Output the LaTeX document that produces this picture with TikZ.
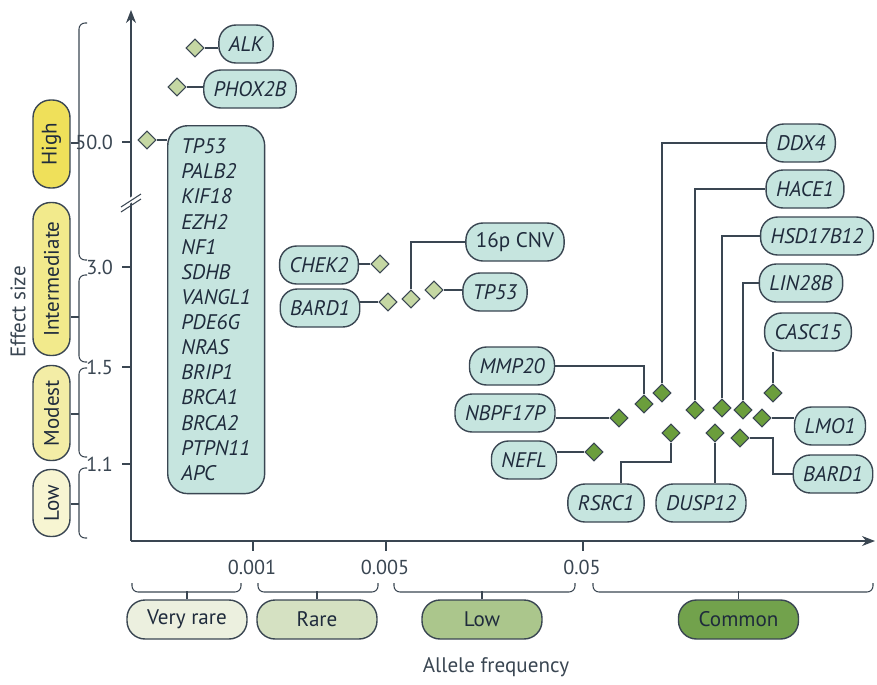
\documentclass[tikz,border=0pt]{standalone}
\usepackage{fontspec}
\setmainfont{PT Sans}
\usetikzlibrary{shapes.geometric, positioning, arrows.meta}

\definecolor{axiscol}{HTML}{3A4652}
\definecolor{textcol}{HTML}{1F2B3C}
\definecolor{genefill}{HTML}{C6E5DF}
\definecolor{lightdiam}{HTML}{C5D7A3}
\definecolor{darkdiam}{HTML}{6B9E3C}
\definecolor{highcol}{HTML}{EFE05A}
\definecolor{intercol}{HTML}{F2EA8C}
\definecolor{modestcol}{HTML}{F3EDA6}
\definecolor{lowcol}{HTML}{F7F5D2}
\definecolor{vrarecol}{HTML}{ECF0DF}
\definecolor{rarecol}{HTML}{D5E1C2}
\definecolor{lowfcol}{HTML}{ABC68C}
\definecolor{commoncol}{HTML}{72A24C}

\tikzset{
  axis/.style={draw=axiscol, line width=0.7pt},
  brk/.style={draw=axiscol, line width=0.6pt, rounded corners=0.12cm},
  lnk/.style={draw=axiscol, line width=0.6pt},
  ticklab/.style={text=axiscol, font=\fontsize{11.5}{13}\selectfont},
  gene/.style={draw=axiscol, fill=genefill, line width=0.8pt, rounded corners=0.34cm,
    minimum height=0.76cm, inner xsep=0.2cm, text=textcol,
    font=\itshape\fontsize{12}{14}\selectfont},
  ldiam/.style={diamond, draw=axiscol, fill=lightdiam, line width=0.6pt,
    minimum size=0.36cm, inner sep=0pt},
  ddiam/.style={ldiam, fill=darkdiam},
  effbox/.style={draw=axiscol, line width=0.8pt, rounded corners=0.35cm, rotate=90,
    minimum height=0.74cm, text=textcol, font=\fontsize{12}{14}\selectfont},
  freqbox/.style={draw=axiscol, line width=0.8pt, rounded corners=0.36cm,
    minimum height=0.78cm, minimum width=2.4cm, text=textcol,
    font=\fontsize{12}{14}\selectfont}
}

\begin{document}
\begin{tikzpicture}[x=0.02cm, y=-0.02cm]
\useasboundingbox (0,0) rectangle (877,684);

% axes
\draw[axis, -{Stealth[length=0.26cm, width=0.2cm]}] (131,541) -- (131,10);
\draw[axis, -{Stealth[length=0.26cm, width=0.2cm]}] (131,541) -- (875,541);
\foreach \y/\t in {142/50.0, 267/3.0, 367/1.5, 464/1.1} {
  \draw[axis] (122,\y) -- (131,\y);
  \node[ticklab, anchor=east] at (119,\y) {\t};
}
\foreach \x/\t in {253/0.001, 386/0.005, 583/0.05} {
  \draw[axis] (\x,541) -- (\x,551);
  \node[ticklab] at (\x-1,567) {\t};
}
% break
\draw[white, line width=0.1cm] (123,205) -- (139,195);
\draw[axis, line width=0.6pt] (121,207) -- (141,194);
\draw[axis, line width=0.6pt] (121,212) -- (141,199);

% effect size
\node[effbox, fill=highcol, minimum width=1.76cm] (high) at (51.5,144) {High};
\node[effbox, fill=intercol, minimum width=3.06cm] (inter) at (51.5,279) {Intermediate};
\node[effbox, fill=modestcol, minimum width=1.9cm] (modest) at (51.5,413) {Modest};
\node[effbox, fill=lowcol, minimum width=1.34cm] (low) at (51.5,503) {Low};
\foreach \ya/\yb/\ym/\nm in {23/260/143/high, 275/362/317/inter, 368/457/414/modest, 468/538/504/low} {
  \draw[brk] (87,\ya) -- (79,\ya) -- (79,\yb) -- (87,\yb);
  \draw[lnk] (79,\ym) -- (\nm.south |- 79,\ym);
}
\node[rotate=90, text=axiscol, font=\fontsize{12}{14}\selectfont] (esize) at (18,312) {Effect size};

% allele frequency
\node[freqbox, fill=vrarecol] (vrare) at (187,619.5) {Very rare};
\node[freqbox, fill=rarecol] (rare) at (317,619.5) {Rare};
\node[freqbox, fill=lowfcol] (lowf) at (482,619.5) {Low};
\node[freqbox, fill=commoncol] (common) at (738.5,619.5) {Common};
\foreach \xa/\xb in {132/241, 258/378, 394/575, 593/873}
  \draw[brk] (\xa,583) -- (\xa,592) -- (\xb,592) -- (\xb,583);
\foreach \nm in {vrare, rare, lowf, common}
  \draw[lnk] (\nm.north) -- ++(0,-8);
\node[text=axiscol, font=\fontsize{12}{14}\selectfont] (afreq) at (496,667) {Allele frequency};

% very rare and rare variants
\node[gene] (alk) at (246,44) {ALK};
\node[gene] (phox) at (250,89) {PHOX2B};
\node[gene, anchor=north west, minimum width=1.94cm, minimum height=7.36cm,
  rounded corners=0.4cm, align=left, font=\itshape\fontsize{12}{14.3}\selectfont] (big) at (167,125)
  {TP53\\PALB2\\KIF18\\EZH2\\NF1\\SDHB\\VANGL1\\PDE6G\\NRAS\\BRIP1\\BRCA1\\BRCA2\\PTPN11\\APC};
\node[ldiam] (dalk) at (195,48) {};
\node[ldiam] (dphox) at (177,87) {};
\node[ldiam] (dtpa) at (147,140) {};
\draw[lnk] (dalk) -- (dalk -| alk.west);
\draw[lnk] (dphox) -- (dphox -| phox.west);
\draw[lnk] (dtpa) -- (dtpa -| big.west);

\node[gene] (chek) at (319,265) {CHEK2};
\node[gene] (barda) at (320,308) {BARD1};
\node[gene, font=\fontsize{12}{14}\selectfont] (cnv) at (515,242) {16p CNV};
\node[gene] (tpb) at (495,292) {TP53};
\node[ldiam] (dchek) at (380,264) {};
\node[ldiam] (dbarda) at (388,302) {};
\node[ldiam] (dcnv) at (411,299) {};
\node[ldiam] (dtpb) at (434,290) {};
\draw[lnk] (dchek) -- (dchek -| chek.east);
\draw[lnk] (dbarda) -- (dbarda -| barda.east);
\draw[lnk] (dcnv) |- (cnv.west);
\draw[lnk] (dtpb) -- (dtpb -| tpb.west);

% low frequency and common variants
\node[gene] (ddx) at (801,143) {DDX4};
\node[gene] (hace) at (805,189) {HACE1};
\node[gene] (hsd) at (817,236) {HSD17B12};
\node[gene] (lin) at (801,283) {LIN28B};
\node[gene] (casc) at (808,332) {CASC15};
\node[gene] (mmp) at (512,366) {MMP20};
\node[gene] (nbpf) at (505,413) {NBPF17P};
\node[gene] (nefl) at (524,460) {NEFL};
\node[gene] (lmo) at (830,426) {LMO1};
\node[gene] (bardb) at (833,474) {BARD1};
\node[gene] (rsrc) at (606,503) {RSRC1};
\node[gene] (dusp) at (701,503) {DUSP12};

\node[ddiam] (dnefl) at (594,452) {};
\node[ddiam] (dnbpf) at (619,418) {};
\node[ddiam] (dmmp) at (644,404) {};
\node[ddiam] (dddx) at (662,393) {};
\node[ddiam] (drsrc) at (671,433) {};
\node[ddiam] (dhace) at (695,410) {};
\node[ddiam] (ddusp) at (715,433) {};
\node[ddiam] (dhsd) at (722,408) {};
\node[ddiam] (dbardb) at (740,438) {};
\node[ddiam] (dlin) at (743,410) {};
\node[ddiam] (dlmo) at (762,418) {};
\node[ddiam] (dcasc) at (773,393) {};

\draw[lnk] (dnefl) -- (dnefl -| nefl.east);
\draw[lnk] (dnbpf) -- (dnbpf -| nbpf.east);
\draw[lnk] (dmmp) |- (mmp.east);
\draw[lnk] (dddx) |- (ddx.west);
\draw[lnk] (dhace) |- (hace.west);
\draw[lnk] (dhsd) |- (hsd.west);
\draw[lnk] (dlin) |- (lin.west);
\draw[lnk] (dcasc) -- (dcasc |- casc.south);
\draw[lnk] (dlmo) -- (dlmo -| lmo.west);
\draw[lnk] (drsrc) -- ++(0,29) -| ([xshift=0.3cm]rsrc.north);
\draw[lnk] (ddusp) -- (ddusp |- dusp.north);
\draw[lnk] (dbardb) -- ++(33,0) |- (bardb.west);
\end{tikzpicture}
\end{document}
